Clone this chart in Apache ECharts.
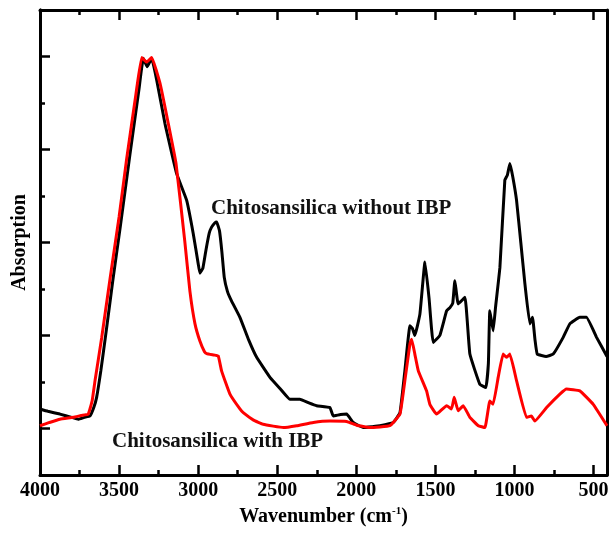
<!DOCTYPE html>
<html>
<head>
<meta charset="utf-8">
<title>FTIR</title>
<script src="https://cdn.jsdelivr.net/npm/echarts@6/dist/echarts.min.js"></script>
<style>
  html,body{margin:0;padding:0;background:#fff;}
  #main{width:610px;height:533px;}
</style>
</head>
<body>
<div id="main"></div>
<script>
// 黑线: Chitosansilica without IBP
var blackWn=[4000,3950,3874,3800,3758,3720,3684,3660,3642,3615,3589,3560,3539,3494,3431,3374,3347,3322,3294,3262,3210,3136,3073,3031,3000,2989,2970,2950,2930,2915,2895,2883,2865,2850,2835,2815,2790,2736,2680,2630,2546,2480,2420,2357,2300,2251,2167,2146,2100,2061,2020,1956,1900,1851,1767,1724,1693,1661,1645,1630,1598,1566,1540,1514,1472,1429,1408,1390,1377,1356,1313,1282,1219,1181,1165,1156,1135,1120,1092,1061,1045,1029,1010,987,960,934,903,886,870,856,800,755,692,650,587,545,481,415];
var blackAbs=[1.42,1.37,1.31,1.24,1.2,1.24,1.27,1.45,1.67,2.25,2.9,3.65,4.2,5.3,6.9,8.3,8.96,8.78,8.96,8.49,7.56,6.48,5.91,5.19,4.55,4.34,4.45,4.85,5.2,5.33,5.42,5.44,5.25,4.8,4.25,3.95,3.75,3.39,2.9,2.53,2.1,1.85,1.63,1.63,1.55,1.49,1.45,1.27,1.3,1.31,1.13,1.02,1.04,1.06,1.13,1.34,2.24,3.21,3.15,3.0,3.46,4.58,3.8,2.85,3.0,3.53,3.6,3.7,4.18,3.68,3.82,2.6,1.95,1.88,2.4,3.53,3.1,3.6,4.47,6.34,6.45,6.7,6.4,5.91,5.0,4.11,3.25,3.39,2.9,2.6,2.55,2.6,2.96,3.25,3.39,3.39,2.96,2.55];

// 红线: Chitosansilica with IBP
var redWn=[4000,3940,3874,3789,3740,3695,3670,3652,3610,3558,3500,3452,3393,3357,3326,3294,3241,3189,3140,3085,3052,3020,2989,2960,2946,2900,2873,2852,2799,2736,2715,2650,2589,2462,2377,2272,2167,2061,1998,1914,1788,1724,1693,1661,1650,1630,1608,1556,1535,1493,1429,1398,1381,1356,1324,1282,1229,1187,1156,1135,1103,1072,1050,1029,987,924,893,871,797,713,671,587,502,415];
var redAbs=[1.06,1.13,1.2,1.24,1.28,1.31,1.6,2.03,2.95,4.2,5.55,6.8,8.2,8.98,8.88,8.98,8.42,7.56,6.7,5.04,3.95,3.25,2.88,2.65,2.61,2.58,2.56,2.24,1.74,1.42,1.34,1.18,1.09,1.02,1.06,1.13,1.16,1.15,1.07,1.02,1.06,1.31,2.03,2.82,2.92,2.6,2.24,1.81,1.52,1.31,1.49,1.42,1.67,1.38,1.49,1.24,1.06,1.02,1.59,1.52,2.1,2.6,2.53,2.6,2.03,1.24,1.27,1.16,1.45,1.74,1.85,1.81,1.52,1.06];

var majorTicks=[500,1000,1500,2000,2500,3000,3500,4000];
var minorTicks=[750,1250,1750,2250,2750,3250,3750];
var yMajor=[1,3,5,7,9];
var yMinor=[2,4,6,8];

function pairs(xs,ys){
  return xs.map(function(x,i){return [x,ys[i]];});
}

var myChart=echarts.init(document.getElementById('main'));
var font='"Liberation Serif", "Times New Roman", serif';
var lineSt={color:'#000',width:3};

function xAx(pos,ticks,len,showLine,label){
  return {
    type:'value',position:pos,min:415,max:4000,inverse:true,
    axisLine:{show:showLine,onZero:false,lineStyle:lineSt},
    axisTick:{show:true,inside:true,length:len,customValues:ticks,lineStyle:{color:'#000',width:2.5}},
    axisLabel:label?{show:true,customValues:ticks,margin:6,color:'#000',fontFamily:font,fontWeight:'bold',fontSize:20,
      formatter:function(v){return String(v);}}:{show:false},
    splitLine:{show:false}
  };
}
function yAx(pos,ticks,len){
  return {
    type:'value',position:pos,min:0,max:10,
    axisLine:{show:true,onZero:false,lineStyle:lineSt},
    axisTick:{show:ticks.length>0,inside:true,length:len,customValues:ticks,lineStyle:{color:'#000',width:2.5}},
    axisLabel:{show:false},
    splitLine:{show:false}
  };
}

var xMain=xAx('bottom',majorTicks,10,true,true);
xMain.name='{a|Wavenumber (cm}{s|-1}{a|)}';
xMain.nameLocation='middle';
xMain.nameGap=30;
xMain.nameTextStyle={rich:{
  a:{fontFamily:font,fontWeight:'bold',fontSize:20,color:'#000'},
  s:{fontFamily:font,fontWeight:'bold',fontSize:11,color:'#000',padding:[0,0,10,0]}
}};

var yMain=yAx('left',yMajor,10);
yMain.name='Absorption';
yMain.nameLocation='middle';
yMain.nameGap=10;
yMain.nameTextStyle={fontFamily:font,fontWeight:'bold',fontSize:20,color:'#000'};

var option={
  animation:false,
  backgroundColor:'#fff',
  grid:{left:40,right:3,top:10,bottom:58,containLabel:false,outerBoundsMode:'none'},
  xAxis:[xMain,xAx('bottom',minorTicks,5,false,false),xAx('top',majorTicks,10,true,false),xAx('top',minorTicks,5,false,false)],
  yAxis:[yMain,yAx('left',yMinor,5),yAx('right',[],0)],
  series:[
    {name:'Chitosansilica without IBP',type:'line',xAxisIndex:0,yAxisIndex:0,showSymbol:false,smooth:0.1,
     lineStyle:{color:'#000',width:3},itemStyle:{color:'#000'},data:pairs(blackWn,blackAbs)},
    {name:'Chitosansilica with IBP',type:'line',xAxisIndex:0,yAxisIndex:0,showSymbol:false,smooth:0.1,
     lineStyle:{color:'#ff0000',width:3},itemStyle:{color:'#ff0000'},data:pairs(redWn,redAbs)}
  ],
  graphic:[
    {type:'text',left:211,top:198,style:{text:'Chitosansilica without IBP',font:'bold 21px '+font,fill:'#111'}},
    {type:'text',left:112,top:431,style:{text:'Chitosansilica with IBP',font:'bold 21px '+font,fill:'#111'}}
  ]
};
myChart.setOption(option);
</script>
</body>
</html>
